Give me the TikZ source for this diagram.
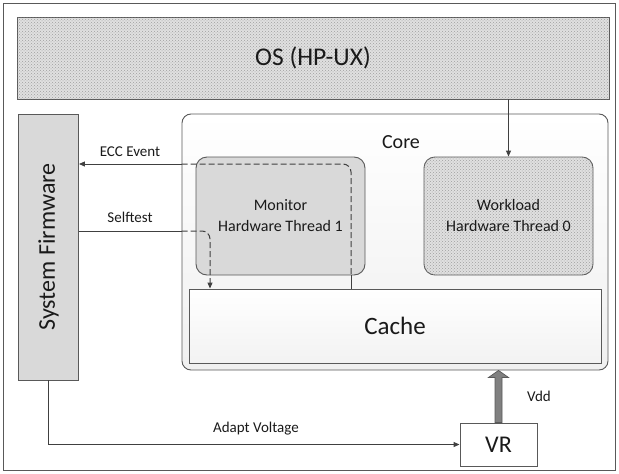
\documentclass[tikz,border=0pt]{standalone}
\usepackage{fontspec}
\setmainfont{Carlito}
\usetikzlibrary{patterns,arrows.meta}
\definecolor{bord}{HTML}{595959}
\definecolor{lineclr}{HTML}{404040}
\definecolor{boxgray}{HTML}{D9D9D9}
\definecolor{dotbg}{HTML}{E0E0E0}
\definecolor{txt}{HTML}{1A1A1A}
\definecolor{vddgray}{HTML}{808080}
\tikzset{
  box/.style={draw=bord, line width=0.9pt, inner sep=0pt, text=txt, align=center},
  dotbox/.style={box, fill=dotbg, postaction={pattern=crosshatch dots, pattern color=gray!75}},
  lbl/.style={text=txt, font=\fontsize{15}{17}\selectfont, inner sep=0pt},
  conn/.style={draw=lineclr, line width=1pt},
  dash5/.style={dash pattern=on 6pt off 3pt},
  arr/.style={conn, -{Triangle[length=6pt,width=5pt]}},
}
\begin{document}
\begin{tikzpicture}[x=1pt,y=-1pt]
\useasboundingbox (0,0) rectangle (619,474);
\draw[bord, line width=1.3pt] (3.5,3.5) rectangle (615.5,470.5);

\node[dotbox, minimum width=592, minimum height=82, font=\fontsize{25.5}{28}\selectfont] (os) at (313,58) {OS (HP-UX)};
\node[box, fill=boxgray, minimum width=60, minimum height=266] (fw) at (48.5,247) {};
\node[rotate=90, text=txt, font=\fontsize{24}{28}\selectfont] (fwtext) at (fw.center) {System Firmware};

\node[box, rounded corners=9pt, minimum width=426, minimum height=256, top color=white, bottom color=gray!12] (core) at (395,242) {};
\node[text=txt, font=\fontsize{20}{24}\selectfont, inner sep=0pt] (coretext) at (401,142) {Core};
\node[box, rounded corners=11pt, fill=boxgray, minimum width=169, minimum height=118, font=\fontsize{16}{21}\selectfont] (mon) at (280.5,216) {Monitor\\Hardware Thread 1};
\node[dotbox, rounded corners=11pt, minimum width=169, minimum height=118, font=\fontsize{16}{21}\selectfont] (work) at (508.5,216) {Workload\\Hardware Thread 0};
\node[box, top color=white, bottom color=gray!10, minimum width=412, minimum height=74, font=\fontsize{25}{28}\selectfont] (cache) at (395,326) {Cache};
\node[box, fill=white, minimum width=77, minimum height=43, font=\fontsize{24}{28}\selectfont] (vr) at (498.5,444.5) {VR};

% OS -> Workload
\draw[arr] (work.north |- os.south) -- (work.north);

% ECC Event
\coordinate (ecc0) at (core.west |- 0,164);
\draw[arr] (ecc0) -- (fw.east |- ecc0);
\draw[conn, dash5, rounded corners=8pt] (ecc0) -- (351,164) -- (mon.south -| 351,0);
\draw[conn] (mon.south -| 351,0) -- (cache.north -| 351,0);
\node[lbl] (ecclbl) at (130,152) {ECC Event};

% Selftest
\coordinate (st0) at (core.west |- 0,231);
\draw[conn] (fw.east |- st0) -- (st0);
\draw[arr, dash5, rounded corners=8pt] (st0) -- (210,231) -- (cache.north -| 210,0);
\node[lbl] (stlbl) at (130,217) {Selftest};

% Adapt Voltage
\draw[arr] (fw.south) |- (vr.west);
\node[lbl] (avlbl) at (256,429) {Adapt Voltage};

% Vdd (block arrow)
\coordinate (vddb) at (vr.north);
\coordinate (vddt) at (vr.north |- core.south);
\filldraw[fill=vddgray, draw=bord, line width=0.7pt]
  ([xshift=-3.5pt]vddb) -- ([xshift=-3.5pt,yshift=-7pt]vddt) -- ([xshift=-10pt,yshift=-7pt]vddt)
  -- (vddt) -- ([xshift=10pt,yshift=-7pt]vddt) -- ([xshift=3.5pt,yshift=-7pt]vddt) -- ([xshift=3.5pt]vddb) -- cycle;
\node[lbl] (vddlbl) at (539,396) {Vdd};
\end{tikzpicture}
\end{document}
